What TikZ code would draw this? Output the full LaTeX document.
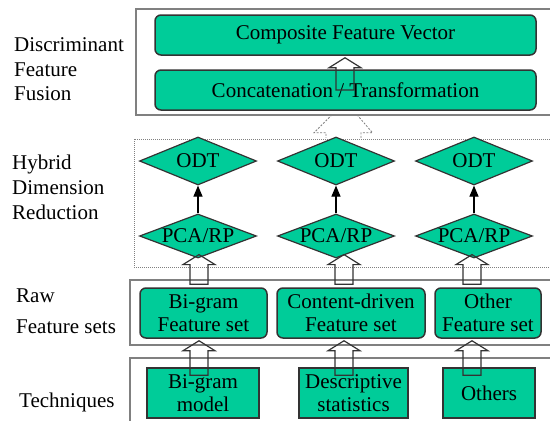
\documentclass[tikz,border=0pt]{standalone}
\usepackage{fontspec}
\newfontfamily\tnrfont{LiberationSerif}[Extension=.ttf,UprightFont=*-Regular,BoldFont=*-Bold]
\usetikzlibrary{shapes.geometric,arrows.meta,calc}
\definecolor{boxgreen}{RGB}{0,204,153}
\newcommand\blockarrow[2]{%
  \draw[hollow] let \p1=(#1), \p2=(#2) in
    (\x1-9pt,\y1) -- (\x1-9pt,\y2-10pt) -- (\x1-16pt,\y2-10pt) -- (\x1,\y2)
    -- (\x1+16pt,\y2-10pt) -- (\x1+9pt,\y2-10pt) -- (\x1+9pt,\y1) -- cycle;}
\begin{document}
\begin{tikzpicture}[x=1pt,y=-1pt,
  font=\tnrfont\fontsize{21}{23}\selectfont,
  frame/.style={draw=gray,line width=1.2pt},
  hybridframe/.style={draw=gray,line width=1pt,densely dotted},
  roundbox/.style={draw=black!80,line width=1.5pt,fill=boxgreen,rounded corners=6pt,inner sep=0pt,align=center},
  sharpbox/.style={draw=black!80,line width=1.5pt,fill=boxgreen,inner sep=0pt,align=center},
  dia/.style={diamond,draw=black!80,line width=1.2pt,fill=boxgreen,inner sep=0pt,minimum width=117pt},
  hollow/.style={draw=black!80,line width=1.2pt},
  blackarrow/.style={draw=black,line width=1.2pt,-{Triangle[width=9pt,length=11pt]}},
  ghost/.style={draw=gray,line width=0.8pt,dash pattern=on 2pt off 1.5pt},
  sidelabel/.style={anchor=base west,inner sep=0pt}]
\useasboundingbox (0,0) rectangle (550,421);
\fill[white] (0,0) rectangle (550,421);

% group frames
\draw[frame] (136,9) rectangle (556,115);
\draw[hybridframe] (134,139) rectangle (556,267);
\draw[frame] (130,280) rectangle (556,345);
\draw[frame] (130,358) rectangle (556,430);

% side labels
\node[sidelabel] (l1) at (14,51) {Discriminant};
\node[sidelabel] (l2) at (14,76) {Feature};
\node[sidelabel] (l3) at (14,100) {Fusion};
\node[sidelabel] (l4) at (12,169) {Hybrid};
\node[sidelabel] (l5) at (12,194) {Dimension};
\node[sidelabel] (l6) at (12,219) {Reduction};
\node[sidelabel] (l7) at (16,302) {Raw};
\node[sidelabel] (l8) at (16,333) {Feature sets};
\node[sidelabel] (l9) at (19,407) {Techniques};

% fusion
\node[roundbox,minimum width=381pt,minimum height=40pt] (comp) at (345.5,35) {Composite Feature Vector};
\node[roundbox,minimum width=381pt,minimum height=40pt] (concat) at (345.5,90) {Concatenation / Transformation};

% hybrid reduction
\node[dia,minimum height=48pt,label={center:ODT}] (odt1) at (198,161) {};
\node[dia,minimum height=48pt,label={center:ODT}] (odt2) at (336,161) {};
\node[dia,minimum height=48pt,label={center:ODT}] (odt3) at (474,161) {};
\node[dia,minimum height=44pt,label={center:PCA/RP}] (pca1) at (198,236) {};
\node[dia,minimum height=44pt,label={center:PCA/RP}] (pca2) at (336,236) {};
\node[dia,minimum height=44pt,label={center:PCA/RP}] (pca3) at (474,236) {};

% raw feature sets
\node[roundbox,minimum width=127pt,minimum height=50pt] (raw1) at (203.5,313) {Bi-gram\\Feature set};
\node[roundbox,minimum width=148pt,minimum height=50pt] (raw2) at (351,313) {Content-driven\\Feature set};
\node[roundbox,minimum width=106pt,minimum height=50pt] (raw3) at (488,313) {Other\\Feature set};

% techniques
\node[sharpbox,minimum width=112pt,minimum height=50pt] (tech1) at (203,393) {Bi-gram\\model};
\node[sharpbox,minimum width=109pt,minimum height=50pt] (tech2) at (353.5,393) {Descriptive\\statistics};
\node[sharpbox,minimum width=92pt,minimum height=50pt] (tech3) at (489,393) {Others};

% connectors
\blockarrow{$(concat.center)+(-0.5,0)$}{$(comp.south)+(0,2)$}
\foreach \i in {1,2,3} {\draw[blackarrow] (pca\i) -- (odt\i);}
\blockarrow{$(raw1.north)+(-4.5,-3)$}{$(pca1.south)+(0,-4)$}
\blockarrow{$(raw2.north)+(-7,-3)$}{$(pca2.south)+(0,-4)$}
\blockarrow{$(raw3.north)+(-16,-3)$}{$(pca3.south)+(0,-4)$}
\blockarrow{$(tech1.north)+(-4,8)$}{$(raw1.south)+(0,2)$}
\blockarrow{$(tech2.north)+(-9.5,8)$}{$(raw2.south)+(0,2)$}
\blockarrow{$(tech3.north)+(-17,8)$}{$(raw3.south)+(0,2)$}

% faint dashed arrow from reduction to fusion
\draw[ghost] ($(concat.south)+(-13.5,4)$) -- ($(concat.south)+(-31.5,22)$) -- ($(concat.south)+(-19.5,22)$) -- ($(concat.south)+(-19.5,27)$);
\draw[ghost] ($(concat.south)+(11.5,4)$) -- ($(concat.south)+(27,22)$) -- ($(concat.south)+(15.5,22)$) -- ($(concat.south)+(15.5,27)$);
\end{tikzpicture}
\end{document}
